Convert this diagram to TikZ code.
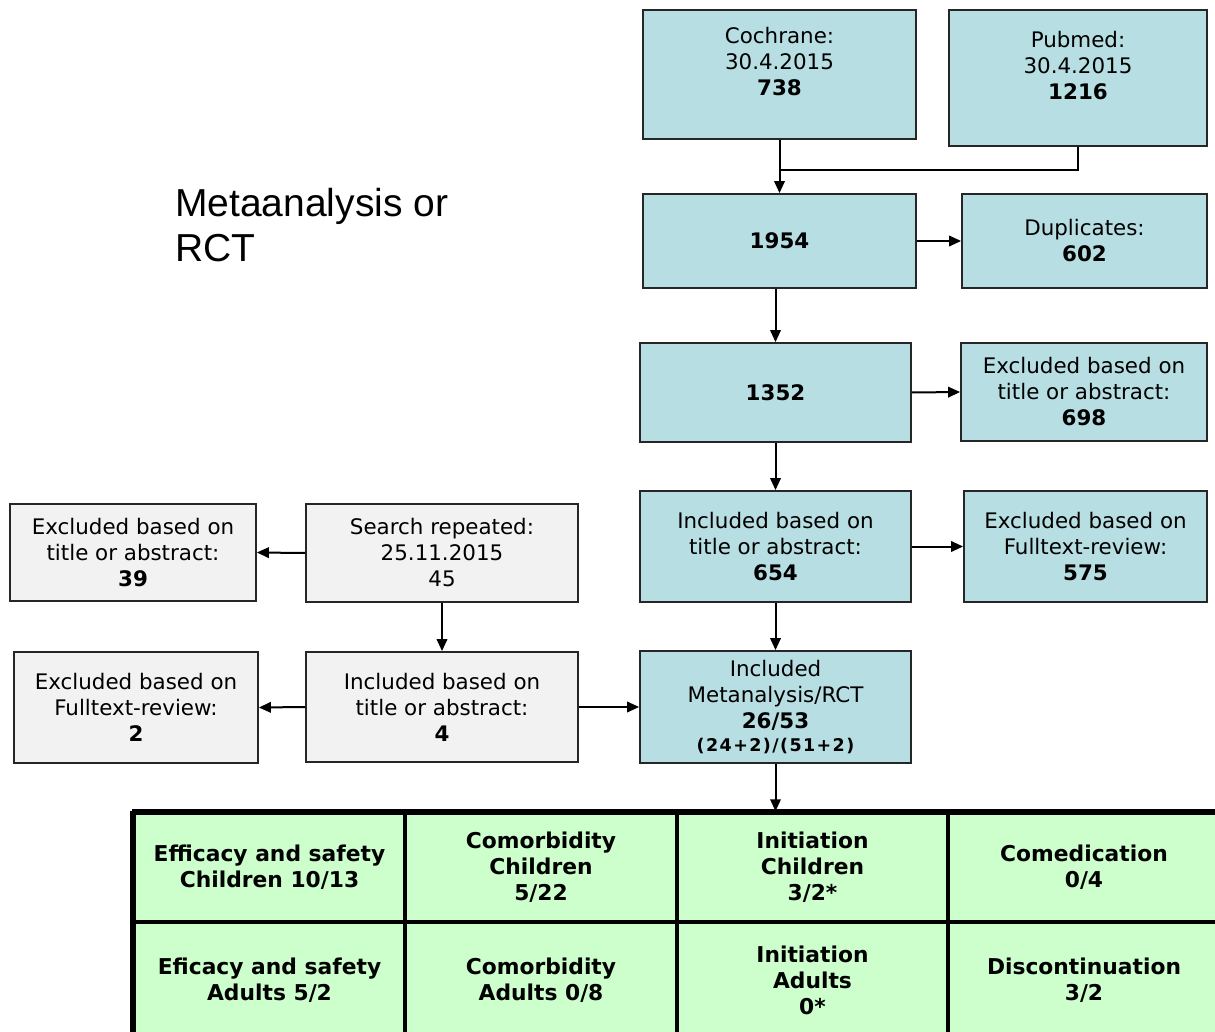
\documentclass[tikz,border=0pt]{standalone}
\usepackage{fontspec}
\setmainfont{DejaVu Sans}
\newfontfamily\titlefont{Liberation Sans}
\newfontfamily\smallbold{DejaVu Sans Bold}[LetterSpace=8]
\usetikzlibrary{arrows.meta}
\definecolor{boxblue}{RGB}{183,222,226}
\definecolor{boxgray}{RGB}{242,242,242}
\definecolor{cellgreen}{RGB}{204,255,204}
\tikzset{
  basebox/.style={draw=black!85, line width=1.8, inner sep=0, align=center,
    font=\fontsize{21.4}{26}\selectfont},
  bluebox/.style={basebox, fill=boxblue},
  graybox/.style={basebox, fill=boxgray},
  cell/.style={draw=black, line width=3.5, fill=cellgreen, inner sep=0, align=center,
    minimum width=271, font=\bfseries\fontsize{21.8}{26}\selectfont},
  arr/.style={line width=2, -{Triangle[length=12pt,width=10.5pt]}},
}
\begin{document}
\begin{tikzpicture}[x=1pt,y=-1pt]
\clip (0,0) rectangle (1215,1032);
\fill[white] (0,0) rectangle (1215,1032);

% title
\node[anchor=west, align=left, inner sep=0, font=\titlefont\fontsize{39}{45}\selectfont] (title) at (175,225.5) {Metaanalysis or\\RCT};

% main column
\node[bluebox, minimum width=273, minimum height=129] (coch) at (779.5,74.5) {Cochrane:\\30.4.2015\\\textbf{738}\\\mbox{}};
\node[bluebox, minimum width=258, minimum height=136] (pub) at (1078,78) {Pubmed:\\30.4.2015\\\textbf{1216}\\\mbox{}};
\node[bluebox, minimum width=273, minimum height=94] (n1954) at (779.5,241) {\textbf{1954}};
\node[bluebox, minimum width=245, minimum height=94] (dup) at (1084.5,241) {Duplicates:\\\textbf{602}};
\node[bluebox, minimum width=271, minimum height=99] (n1352) at (775.5,392.5) {\textbf{1352}};
\node[bluebox, minimum width=246, minimum height=98] (ex698) at (1084,392) {Excluded based on\\title or abstract:\\\textbf{698}};
\node[bluebox, minimum width=271, minimum height=111] (in654) at (775.5,546.5) {Included based on\\title or abstract:\\\textbf{654}};
\node[bluebox, minimum width=243, minimum height=111] (ex575) at (1085.5,546.5) {Excluded based on\\Fulltext-review:\\\textbf{575}};
\node[bluebox, minimum width=271, minimum height=112] (meta) at (775.5,707) {Included\\Metanalysis/RCT\\\textbf{26/53}\\[-3pt]{\smallbold\fontsize{17.5}{20}\selectfont (24+2)/(51+2)}};

% left column
\node[graybox, minimum width=272, minimum height=98] (search) at (442,553) {Search repeated:\\25.11.2015\\45};
\node[graybox, minimum width=246, minimum height=97] (ex39) at (133,552.5) {Excluded based on\\title or abstract:\\\textbf{39}};
\node[graybox, minimum width=272, minimum height=110] (in4) at (442,707) {Included based on\\title or abstract:\\\textbf{4}};
\node[graybox, minimum width=244, minimum height=111] (ex2) at (136,707.5) {Excluded based on\\Fulltext-review:\\\textbf{2}};

% table
\node[cell, minimum height=109] (c11) at (269.5,867.5) {Efficacy and safety\\Children 10/13};
\node[cell, minimum height=109] (c12) at (541,867.5) {Comorbidity\\Children\\5/22};
\node[cell, minimum height=109] (c13) at (812.5,867.5) {Initiation\\Children\\3/2*};
\node[cell, minimum height=109] (c14) at (1084,867.5) {Comedication\\0/4};
\node[cell, minimum height=116] (c21) at (269.5,980) {Eficacy and safety\\Adults 5/2};
\node[cell, minimum height=116] (c22) at (541,980) {Comorbidity\\Adults 0/8};
\node[cell, minimum height=116] (c23) at (812.5,980) {Initiation\\Adults\\0*};
\node[cell, minimum height=116] (c24) at (1084,980) {Discontinuation\\3/2};
\draw[line width=5] (c11.north west) -- (c14.north east);
\draw[line width=5] (c11.north west) -- (c21.south west);

% connectors
\coordinate (join) at (779.5,170);
\draw[line width=1.6] (pub.south) |- (join);
\draw[arr] (coch.south) -- (n1954.north);
\draw[arr] (n1954.east) -- (dup.west);
\draw[arr] (n1954.south -| n1352.north) -- (n1352.north);
\draw[arr] (n1352.east) -- (ex698.west);
\draw[arr] (n1352.south) -- (in654.north);
\draw[arr] (in654.east) -- (ex575.west);
\draw[arr] (in654.south) -- (meta.north);
\draw[arr] (search.west) -- (ex39.east);
\draw[arr] (search.south) -- (in4.north);
\draw[arr] (in4.west) -- (ex2.east);
\draw[arr] (in4.east) -- (meta.west);
\draw[arr] (meta.south) -- (meta.south |- c13.north);
\end{tikzpicture}
\end{document}
